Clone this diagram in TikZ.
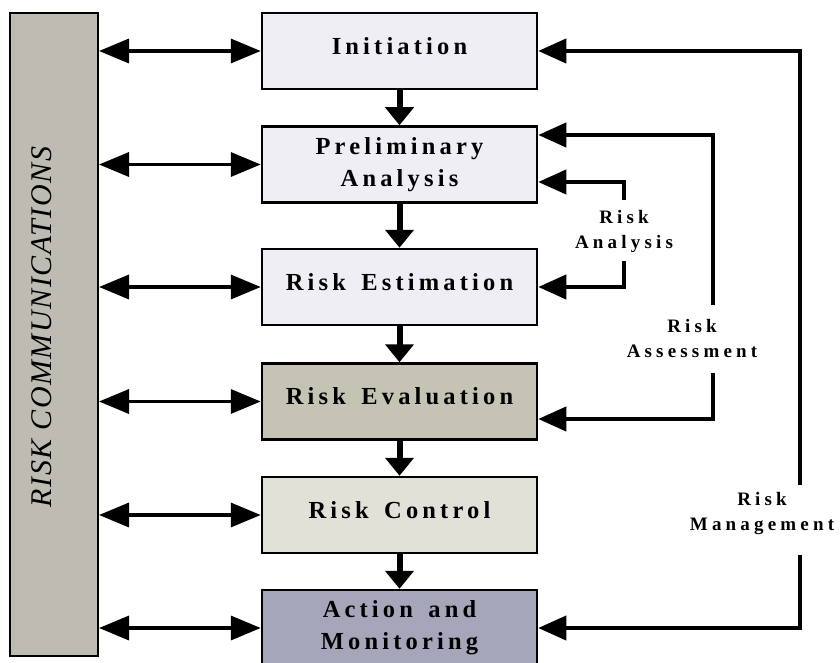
\documentclass[tikz,border=0pt]{standalone}
\usepackage{fontspec}
\setmainfont{Liberation Serif}
\newfontfamily\stepfont[LetterSpace=17,WordSpace=1.5]{Liberation Serif}
\newfontfamily\tagfont[LetterSpace=22]{Liberation Serif}
\newfontfamily\commfont[LetterSpace=5]{Liberation Serif}
\usetikzlibrary{arrows.meta}

% fills of the process steps
\definecolor{barfill}{RGB}{189,187,178}
\definecolor{palefill}{RGB}{238,238,244}
\definecolor{evalfill}{RGB}{197,195,180}
\definecolor{ctrlfill}{RGB}{226,225,215}
\definecolor{actfill}{RGB}{166,166,186}

% single-line step labels sit a little above the box centre
\newcommand\liftlabel[1]{\raisebox{5pt}[\height][\depth]{#1}}

\begin{document}
\begin{tikzpicture}[x=1pt,y=-1pt,
  commbar/.style={draw=black, line width=2pt, fill=barfill,
    minimum width=88pt, minimum height=643pt, inner sep=0pt},
  stepbox/.style={draw=black, line width=2.5pt, minimum width=275pt,
    minimum height=76pt, inner sep=0pt, align=center,
    font=\stepfont\bfseries\fontsize{24.5}{32}\selectfont},
  tag/.style={align=center, inner sep=0pt,
    font=\tagfont\bfseries\fontsize{19}{25}\selectfont},
  link/.style={line width=3.5pt,
    {Triangle[length=30pt,width=24pt]}-{Triangle[length=30pt,width=24pt]}},
  flow/.style={line width=6pt, -{Triangle[length=18pt,width=28pt]}},
  feedback/.style={line width=4pt, -{Triangle[length=28pt,width=24pt]}}]

\useasboundingbox (0,0) rectangle (840,663);

% risk communication bar
\node[commbar] (comm) at (54,334.5) {};
\node[rotate=90, inner sep=0pt,
  font=\commfont\itshape\fontsize{30}{36}\selectfont] (commtext) at (42,327)
  {RISK COMMUNICATIONS};

% process steps
\node[stepbox, fill=palefill] (init)    at (399.5,51)    {\liftlabel{Initiation}};
\node[stepbox, fill=palefill] (prelim)  at (399.5,164.5) {Preliminary\\Analysis};
\node[stepbox, fill=palefill] (estim)   at (399.5,287)   {\liftlabel{Risk Estimation}};
\node[stepbox, fill=evalfill] (evalu)   at (399.5,401.5) {\liftlabel{Risk Evaluation}};
\node[stepbox, fill=ctrlfill] (control) at (399.5,515)   {\liftlabel{Risk Control}};
\node[stepbox, fill=actfill]  (action)  at (399.5,628)   {Action and\\Monitoring};

% two-way communication with every step
\foreach \n in {init,prelim,estim,evalu,control,action}
  \draw[link] (comm.east |- \n.west) -- (\n.west);

% main sequence
\draw[flow] (init) -- (prelim);
\draw[flow] (prelim) -- (estim);
\draw[flow] (estim) -- (evalu);
\draw[flow] (evalu) -- (control);
\draw[flow] (control) -- (action);

% scope labels
\node[tag] (ra) at (624,231) {Risk\\Analysis};
\node[tag] (rs) at (692,338) {Risk\\Assessment};
\node[tag] (rm) at (762,514) {Risk\\Management};

% risk analysis loop
\coordinate (raTop) at (624,200);
\coordinate (raIn)  at (624,182);
\coordinate (raBot) at (624,261);
\draw[feedback] (raTop) -- (raIn) -- (prelim.east |- raIn);
\draw[feedback] (raBot) |- (estim.east);

% risk assessment loop
\coordinate (rsTop) at (713,305);
\coordinate (rsIn)  at (713,135);
\coordinate (rsBot) at (713,373);
\coordinate (rsOut) at (713,419);
\draw[feedback] (rsTop) -- (rsIn) -- (prelim.east |- rsIn);
\draw[feedback] (rsBot) -- (rsOut) -- (evalu.east |- rsOut);

% risk management loop
\coordinate (rmTop) at (800,485);
\coordinate (rmBot) at (800,555);
\draw[feedback] (rmTop) |- (init.east);
\draw[feedback] (rmBot) |- (action.east);

\end{tikzpicture}
\end{document}
